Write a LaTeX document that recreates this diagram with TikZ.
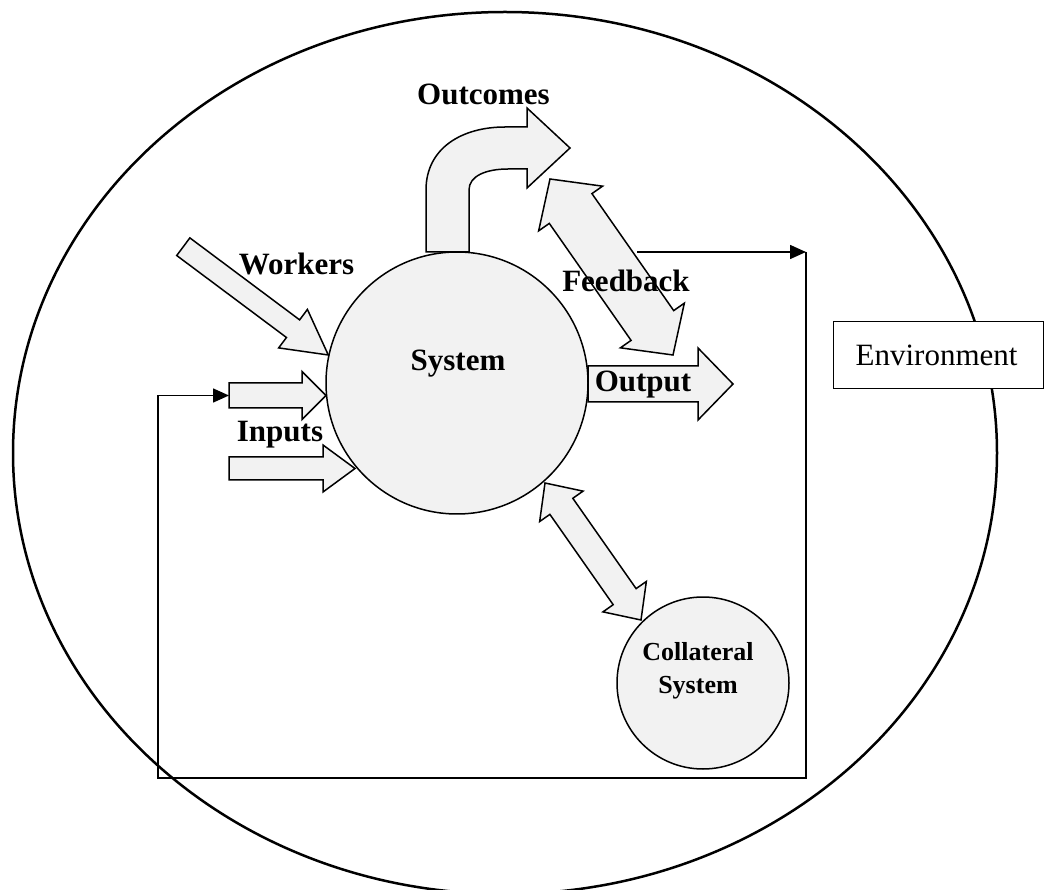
\documentclass[tikz,border=0pt]{standalone}
\usepackage{fontspec}
\setmainfont{Liberation Serif}
\usetikzlibrary{calc,arrows.meta}

\definecolor{boxgray}{HTML}{F2F2F2}

\tikzset{
  blockarrow/.style={draw=black, fill=boxgray, line width=1.5pt, line join=miter},
  loopline/.style={draw=black, line width=1.6pt},
  looptip/.style={-{Triangle[length=16pt,width=14pt]}},
  systemdisc/.style={circle, draw=black, fill=boxgray, line width=1.5pt, inner sep=0pt},
  boldlabel/.style={font=\fontsize{31}{36}\selectfont\bfseries, anchor=base, inner sep=0pt},
  smalllabel/.style={font=\fontsize{26}{30}\selectfont\bfseries, anchor=base, inner sep=0pt},
}

% straight block arrow: name, tail, tip, shaft half-width, head half-width, head length
\newcommand{\singleblock}[6]{%
  \coordinate (#1-nk) at ($(#3)!#6!(#2)$);
  \filldraw[blockarrow] ($(#2)!#4!90:(#3)$) -- ($(#1-nk)!#4!90:(#3)$)
    -- ($(#1-nk)!#5!90:(#3)$) -- (#3) -- ($(#1-nk)!#5!-90:(#3)$)
    -- ($(#1-nk)!#4!-90:(#3)$) -- ($(#2)!#4!-90:(#3)$) -- cycle;
}
% two-headed block arrow: name, tip A, tip B, shaft half-width, head half-width, head length
\newcommand{\doubleblock}[6]{%
  \coordinate (#1-na) at ($(#2)!#6!(#3)$);
  \coordinate (#1-nb) at ($(#3)!#6!(#2)$);
  \filldraw[blockarrow] (#2) -- ($(#1-na)!#5!90:(#3)$) -- ($(#1-na)!#4!90:(#3)$)
    -- ($(#1-nb)!#4!-90:(#2)$) -- ($(#1-nb)!#5!-90:(#2)$) -- (#3)
    -- ($(#1-nb)!#5!90:(#2)$) -- ($(#1-nb)!#4!90:(#2)$)
    -- ($(#1-na)!#4!-90:(#3)$) -- ($(#1-na)!#5!-90:(#3)$) -- cycle;
}

\begin{document}
\begin{tikzpicture}[x=1pt, y=-1pt]
\useasboundingbox (0,0) rectangle (1045,890);
\clip (0,0) rectangle (1045,890);

% environment boundary
\draw[line width=2.5pt] (505,453) ellipse [x radius=492pt, y radius=441pt];

% environment label box
\node[draw=black, fill=white, line width=1.3pt, anchor=north west,
      minimum width=210pt, minimum height=67pt, text width=166pt,
      inner xsep=22pt, inner ysep=0pt, align=left,
      font=\fontsize{31}{36}\selectfont] (env) at (833,321) {Environment};

% feedback loop
\coordinate (fbout) at (637,252);
\coordinate (cTR) at (806,252);
\coordinate (cBR) at (806,778);
\coordinate (cBL) at (158,778);
\coordinate (cTL) at (158,395.5);
\coordinate (inAtail) at (229,395.5);
\draw[loopline, looptip] (fbout) -- (cTR);
\draw[loopline, looptip] (cTR) -- (cBR) -- (cBL) -- (cTL) -- (inAtail);

% systems
\node[systemdisc, minimum size=262pt] (sys) at (457,383) {};
\node[systemdisc, minimum size=172pt] (coll) at (703,683) {};

% outcomes (bent arrow)
\filldraw[blockarrow] (426,252) -- (426,190) .. controls (426,148) and (462,127) .. (505,127)
  -- (527,127) -- (527,108) -- (570,148) -- (527,188) -- (527,169) -- (508,169)
  .. controls (486,169) and (469,176) .. (469,190) -- (469,252) -- cycle;

% workers
\coordinate (wtail) at (183.3,246.7);
\coordinate (wtip) at (328.3,355);
\singleblock{work}{wtail}{wtip}{11pt}{24pt}{44pt}

% inputs
\coordinate (inAtip) at (326,395.5);
\singleblock{inA}{inAtail}{inAtip}{12.5pt}{24pt}{24pt}
\coordinate (inBtail) at (229,468.5);
\coordinate (inBtip) at (355,468.5);
\singleblock{inB}{inBtail}{inBtip}{11.5pt}{23.5pt}{32pt}

% output
\coordinate (outtail) at (588,384);
\coordinate (outtip) at (733,384);
\singleblock{out}{outtail}{outtip}{18pt}{36pt}{35pt}

% feedback
\coordinate (fbA) at (550,179);
\coordinate (fbB) at (673,355);
\doubleblock{fb}{fbA}{fbB}{26pt}{39pt}{36pt}

% link to collateral system
\coordinate (clA) at (545,483);
\coordinate (clB) at (641,620);
\doubleblock{cl}{clA}{clB}{14pt}{26.5pt}{28.5pt}

% labels
\node[boldlabel] (tOutcomes) at (483.5,105) {Outcomes};
\node[boldlabel] (tWorkers) at (296.5,275) {Workers};
\node[boldlabel] (tInputs) at (280,442) {Inputs};
\node[boldlabel] (tFeedback) at (626,292) {Feedback};
\node[boldlabel] (tOutput) at (643,392) {Output};
\node[boldlabel] (tSystem) at (458,371) {System};
\node[smalllabel] (tColl) at (698,660) {Collateral};
\node[smalllabel] (tCollSys) at (698,693) {System};
\end{tikzpicture}
\end{document}
